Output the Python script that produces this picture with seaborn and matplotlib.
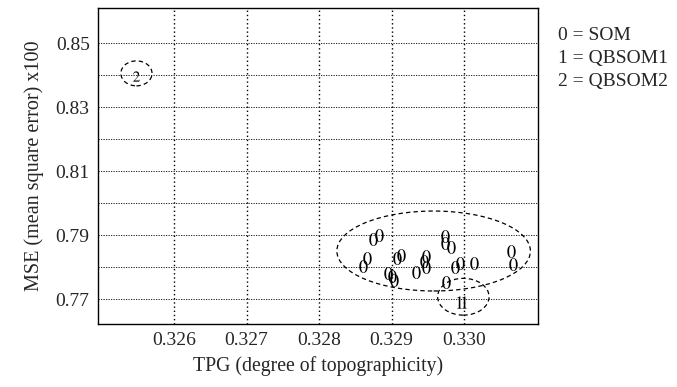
import numpy as np
import pandas as pd
import matplotlib
matplotlib.use("Agg")
import matplotlib.pyplot as plt
import seaborn as sns
from matplotlib.patches import Ellipse

# ---- data ----
som_tpg = [0.32874, 0.32882, 0.32866, 0.32860, 0.32895, 0.32900, 0.32904,
           0.32907, 0.32913, 0.32934, 0.32945, 0.32948, 0.32947, 0.32974,
           0.32974, 0.32982, 0.32987, 0.32994, 0.33014, 0.32975, 0.33065,
           0.33068]
som_mse = [0.78868, 0.79002, 0.78283, 0.78033, 0.77823, 0.77720, 0.77594,
           0.78292, 0.78386, 0.77854, 0.78198, 0.78355, 0.78011, 0.78956,
           0.78768, 0.78618, 0.78011, 0.78136, 0.78136, 0.77532, 0.78492,
           0.78086]
qb1_tpg = [0.32993, 0.33000]
qb1_mse = [0.76916, 0.76916]
qb2_tpg = [0.32547]
qb2_mse = [0.83978]

x_ticks = [0.326, 0.327, 0.328, 0.329, 0.330]
y_ticks = [0.77, 0.79, 0.81, 0.83, 0.85]
y_grid = [0.77, 0.78, 0.79, 0.80, 0.81, 0.82, 0.83, 0.84, 0.85]
legend_lines = ["0 = SOM", "1 = QBSOM1", "2 = QBSOM2"]

# cluster ellipses: (center x, center y, width, height) in data units
ell_cx = [0.32958, 0.32999, 0.32548]
ell_cy = [0.78502, 0.77072, 0.84056]
ell_w = [0.00267, 0.00071, 0.00043]
ell_h = [0.0250, 0.0115, 0.0078]

df = pd.DataFrame({
    "TPG": som_tpg + qb1_tpg + qb2_tpg,
    "MSE": som_mse + qb1_mse + qb2_mse,
    "method": ["SOM"] * len(som_tpg) + ["QBSOM1"] * len(qb1_tpg) + ["QBSOM2"] * len(qb2_tpg),
})

sns.set_style("white")
plt.rcParams["font.family"] = ["Liberation Serif", "DejaVu Serif"]
plt.rcParams["mathtext.fontset"] = "stix"

fig = plt.figure(figsize=(6.77, 3.87), dpi=100)
ax = fig.add_axes([0.1448, 0.1628, 0.6499, 0.8165])

sizes = {"SOM": 85, "QBSOM1": 80, "QBSOM2": 55}
markers = {"SOM": "$0$", "QBSOM1": "$1$", "QBSOM2": "$2$"}
for m in ["SOM", "QBSOM1", "QBSOM2"]:
    sub = df[df.method == m]
    sns.scatterplot(data=sub, x="TPG", y="MSE", marker=markers[m], s=sizes[m],
                    color="black", linewidth=0, ax=ax, legend=False, zorder=3)

for cx, cy, w, h in zip(ell_cx, ell_cy, ell_w, ell_h):
    ax.add_patch(Ellipse((cx, cy), w, h, fill=False, edgecolor="black",
                         linestyle=(0, (3.5, 2.5)), linewidth=0.9, zorder=2))

ax.set_xlim(0.32495, 0.33102)
ax.set_ylim(0.7622, 0.861)
ax.set_xticks(x_ticks)
ax.set_xticklabels([f"{v:.3f}" for v in x_ticks])
ax.set_yticks(y_ticks)
ax.set_yticklabels([f"{v:.2f}" for v in y_ticks])
ax.set_yticks(y_grid, minor=True)
ax.tick_params(axis="both", which="both", length=0, labelsize=14, pad=6)
ax.xaxis.grid(True, which="major", linestyle=(0, (1, 2)), color="black", linewidth=1.0)
ax.yaxis.grid(True, which="both", linestyle=(0, (1.5, 1.5)), color="black", linewidth=0.6)
ax.set_axisbelow(True)
for sp in ax.spines.values():
    sp.set_visible(True)
    sp.set_color("black")
    sp.set_linewidth(1.0)

ax.set_xlabel("TPG (degree of topographicity)", fontsize=14.2, labelpad=5)
ax.set_ylabel("MSE (mean square error) x100", fontsize=14.5, labelpad=8)

for i, t in enumerate(legend_lines):
    fig.text(558 / 677, 1 - (36 + i * 22.7) / 387, t, fontsize=14,
             va="center", ha="left")

fig.savefig("out.png", dpi=100)
